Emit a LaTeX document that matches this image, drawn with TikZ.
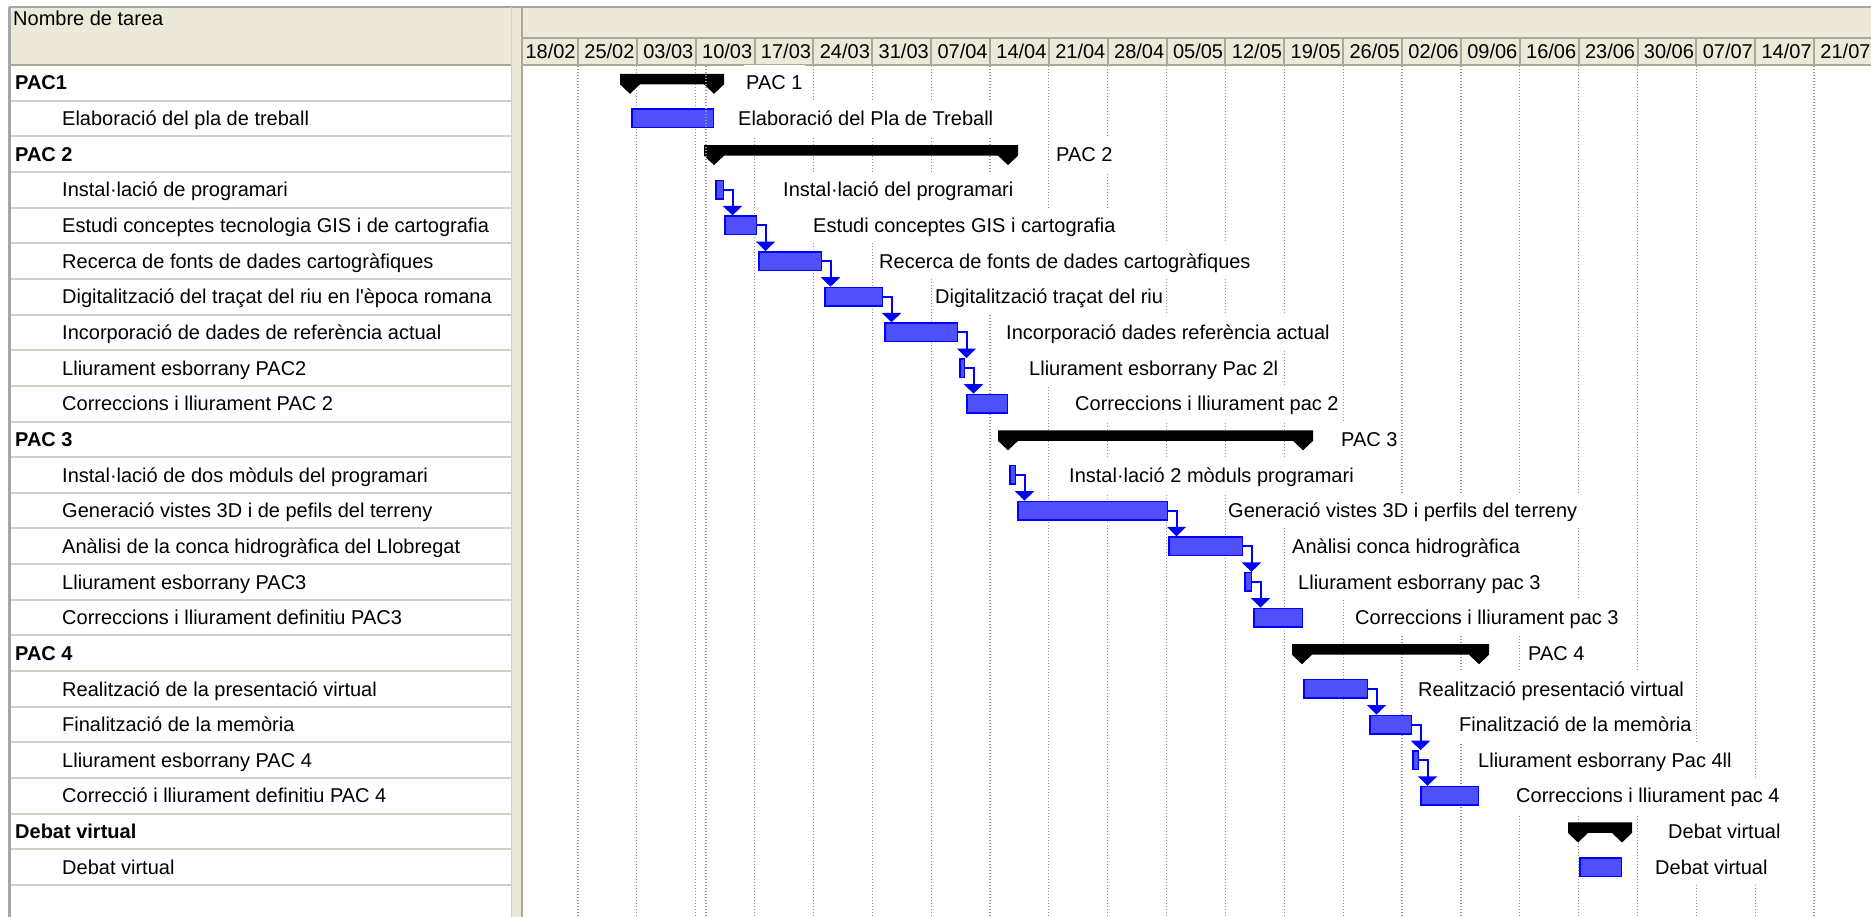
\documentclass[tikz,border=0pt]{standalone}
\usepackage{fontspec}
\setmainfont{Liberation Sans}
\usetikzlibrary{arrows.meta,calc}
\definecolor{tan}{HTML}{ECE9D8}
\definecolor{bord}{HTML}{ACA899}
\definecolor{rowln}{HTML}{D4D0C8}
\definecolor{barfill}{RGB}{80,80,250}
\definecolor{barblue}{RGB}{0,0,255}
\definecolor{gridc}{RGB}{150,150,150}
\newcommand\ff{\fontsize{20pt}{24pt}\selectfont}
\tikzset{
  tb/.style={anchor=base west, inner sep=0pt, font=\ff},
  tbb/.style={anchor=base west, inner sep=0pt, font=\ff\bfseries},
  datelab/.style={anchor=base, inner sep=0pt, font=\ff},
  lab/.style={anchor=west, fill=white, inner xsep=2pt, inner ysep=0pt, text height=14.3pt, text depth=0pt, minimum height=35.6pt, font=\ff},
  task/.style={draw=barblue, fill=barfill, line width=1.5pt, inner sep=0pt, minimum height=18.5pt},
  conn/.style={draw=barblue, line width=2pt, -{Triangle[width=19pt,length=9.5pt]}},
  gridln/.style={draw=gridc, line width=1.2pt, dash pattern=on 1.2pt off 1.8pt},
  rowline/.style={draw=rowln, line width=2pt},
  bordline/.style={draw=bord, line width=2pt}
}
\newcommand\taskbar[4]{\node[task, minimum width={(#3-#2-1.5)*1pt}] (#1) at ({(#2+#3)/2},{rc(#4)}) {};}
\newcommand\sumbar[4]{\fill[black] ({#2-10},{rc(#4)-9}) coordinate (#1) -- ({#3+10},{rc(#4)-9}) -- ({#3+10},{rc(#4)+1.5}) -- (#3,{rc(#4)+11}) -- ({#3-10},{rc(#4)+1.5}) -- ({#2+10},{rc(#4)+1.5}) -- (#2,{rc(#4)+11}) -- ({#2-10},{rc(#4)+1.5}) -- cycle;}
\newcommand\dep[2]{\draw[conn] (#1.east) -- ++(8.5,0) coordinate (#1x#2) -- (#1x#2 |- #2.north);}
\begin{document}
\begin{tikzpicture}[x=1pt,y=-1pt, declare function={rc(\i)=82.825+35.65*\i;}]
\useasboundingbox (0,0) rectangle (1871,917);
\fill[white] (0,0) rectangle (1871,917);
% header
\fill[tan] (9,7) rectangle (1871,65);
\fill[tan] (511,7) rectangle (523,917);
\draw[draw=gray!70, line width=2pt] (9,7) -- (1871,7);
\draw[draw=gray!70, line width=3pt] (9.5,7) -- (9.5,917);
\foreach \k in {1,...,23} \draw[rowline] (11,{65+35.65*\k}) -- (511,{65+35.65*\k});
\draw[bordline] (9,65) -- (511,65);
\draw[bordline] (523,65) -- (1871,65);
\draw[bordline] (523,38) -- (1871,38);
\foreach \k in {1,...,22} \draw[bordline] ({519.14+58.86*\k},38) -- ++(0,27);
\draw[draw=rowln, line width=1pt] (511.5,7) -- (511.5,917);
\draw[bordline] (522,7) -- (522,917);
% gridlines
\foreach \k in {1,...,22} \draw[gridln] ({519.14+58.86*\k},66) -- ++(0,851);
% header texts
\node[tb] (hdr) at (13,26) {Nombre de tarea};
\foreach \d [count=\k from 0] in {18/02,25/02,03/03,10/03,17/03,24/03,31/03,07/04,14/04,21/04,28/04,05/05,12/05,19/05,26/05,02/06,09/06,16/06,23/06,30/06,07/07,14/07,21/07}
  \node[datelab] (d\k) at ({519.14+58.86*(\k+0.5)+2},58.5) {\d};
% table texts
\node[tbb] (n0) at (15,{rc(0)+7.15}) {PAC1};
\node[tb] (n1) at (62,{rc(1)+7.15}) {Elaboració del pla de treball};
\node[tbb] (n2) at (15,{rc(2)+7.15}) {PAC 2};
\node[tb] (n3) at (62,{rc(3)+7.15}) {Instal·lació de programari};
\node[tb] (n4) at (62,{rc(4)+7.15}) {Estudi conceptes tecnologia GIS i de cartografia};
\node[tb] (n5) at (62,{rc(5)+7.15}) {Recerca de fonts de dades cartogràfiques};
\node[tb] (n6) at (62,{rc(6)+7.15}) {Digitalització del traçat del riu en l\textquotesingle època romana};
\node[tb] (n7) at (62,{rc(7)+7.15}) {Incorporació de dades de referència actual};
\node[tb] (n8) at (62,{rc(8)+7.15}) {Lliurament esborrany PAC2};
\node[tb] (n9) at (62,{rc(9)+7.15}) {Correccions i lliurament PAC 2};
\node[tbb] (n10) at (15,{rc(10)+7.15}) {PAC 3};
\node[tb] (n11) at (62,{rc(11)+7.15}) {Instal·lació de dos mòduls del programari};
\node[tb] (n12) at (62,{rc(12)+7.15}) {Generació vistes 3D i de pefils del terreny};
\node[tb] (n13) at (62,{rc(13)+7.15}) {Anàlisi de la conca hidrogràfica del Llobregat};
\node[tb] (n14) at (62,{rc(14)+7.15}) {Lliurament esborrany PAC3};
\node[tb] (n15) at (62,{rc(15)+7.15}) {Correccions i lliurament definitiu PAC3};
\node[tbb] (n16) at (15,{rc(16)+7.15}) {PAC 4};
\node[tb] (n17) at (62,{rc(17)+7.15}) {Realització de la presentació virtual};
\node[tb] (n18) at (62,{rc(18)+7.15}) {Finalització de la memòria};
\node[tb] (n19) at (62,{rc(19)+7.15}) {Lliurament esborrany PAC 4};
\node[tb] (n20) at (62,{rc(20)+7.15}) {Correcció i lliurament definitiu PAC 4};
\node[tbb] (n21) at (15,{rc(21)+7.15}) {Debat virtual};
\node[tb] (n22) at (62,{rc(22)+7.15}) {Debat virtual};
% chart labels
\node[lab] (l0) at (744,{rc(0)}) {PAC 1};
\node[lab] (l1) at (736,{rc(1)}) {Elaboració del Pla de Treball};
\node[lab] (l2) at (1054,{rc(2)}) {PAC 2};
\node[lab] (l3) at (781,{rc(3)}) {Instal·lació del programari};
\node[lab] (l4) at (811,{rc(4)}) {Estudi conceptes GIS i cartografia};
\node[lab] (l5) at (877,{rc(5)}) {Recerca de fonts de dades cartogràfiques};
\node[lab] (l6) at (933,{rc(6)}) {Digitalització traçat del riu};
\node[lab] (l7) at (1004,{rc(7)}) {Incorporació dades referència actual};
\node[lab] (l8) at (1027,{rc(8)}) {Lliurament esborrany Pac 2l};
\node[lab] (l9) at (1073,{rc(9)}) {Correccions i lliurament pac 2};
\node[lab] (l10) at (1339,{rc(10)}) {PAC 3};
\node[lab] (l11) at (1067,{rc(11)}) {Instal·lació 2 mòduls programari};
\node[lab] (l12) at (1226,{rc(12)}) {Generació vistes 3D i perfils del terreny};
\node[lab] (l13) at (1290,{rc(13)}) {Anàlisi conca hidrogràfica};
\node[lab] (l14) at (1296,{rc(14)}) {Lliurament esborrany pac 3};
\node[lab] (l15) at (1353,{rc(15)}) {Correccions i lliurament pac 3};
\node[lab] (l16) at (1526,{rc(16)}) {PAC 4};
\node[lab] (l17) at (1416,{rc(17)}) {Realització presentació virtual};
\node[lab] (l18) at (1457,{rc(18)}) {Finalització de la memòria};
\node[lab] (l19) at (1476,{rc(19)}) {Lliurament esborrany Pac 4ll};
\node[lab] (l20) at (1514,{rc(20)}) {Correccions i lliurament pac 4};
\node[lab] (l21) at (1666,{rc(21)}) {Debat virtual};
\node[lab] (l22) at (1653,{rc(22)}) {Debat virtual};
% summary bars
\sumbar{s0}{630}{714}{0}
\sumbar{s2}{714}{1008}{2}
\sumbar{s10}{1008}{1303}{10}
\sumbar{s16}{1302}{1479}{16}
\sumbar{s21}{1578}{1622}{21}
% task bars
\taskbar{t1}{631}{714}{1}
\taskbar{t3}{715}{724}{3}
\taskbar{t4}{724}{757}{4}
\taskbar{t5}{758}{822}{5}
\taskbar{t6}{824}{883}{6}
\taskbar{t7}{884}{958}{7}
\taskbar{t8}{959}{965}{8}
\taskbar{t9}{966}{1008}{9}
\taskbar{t11}{1009}{1016}{11}
\taskbar{t12}{1017}{1168}{12}
\taskbar{t13}{1168}{1243}{13}
\taskbar{t14}{1244}{1252}{14}
\taskbar{t15}{1253}{1303}{15}
\taskbar{t17}{1303}{1368}{17}
\taskbar{t18}{1369}{1412}{18}
\taskbar{t19}{1412}{1419}{19}
\taskbar{t20}{1420}{1479}{20}
\taskbar{t22}{1579}{1622}{22}
% dependencies
\dep{t3}{t4}
\dep{t4}{t5}
\dep{t5}{t6}
\dep{t6}{t7}
\dep{t7}{t8}
\dep{t8}{t9}
\dep{t11}{t12}
\dep{t12}{t13}
\dep{t13}{t14}
\dep{t14}{t15}
\dep{t17}{t18}
\dep{t18}{t19}
\dep{t19}{t20}
% current date line
\draw[gridln] (706,66) -- (706,917);
\end{tikzpicture}
\end{document}
